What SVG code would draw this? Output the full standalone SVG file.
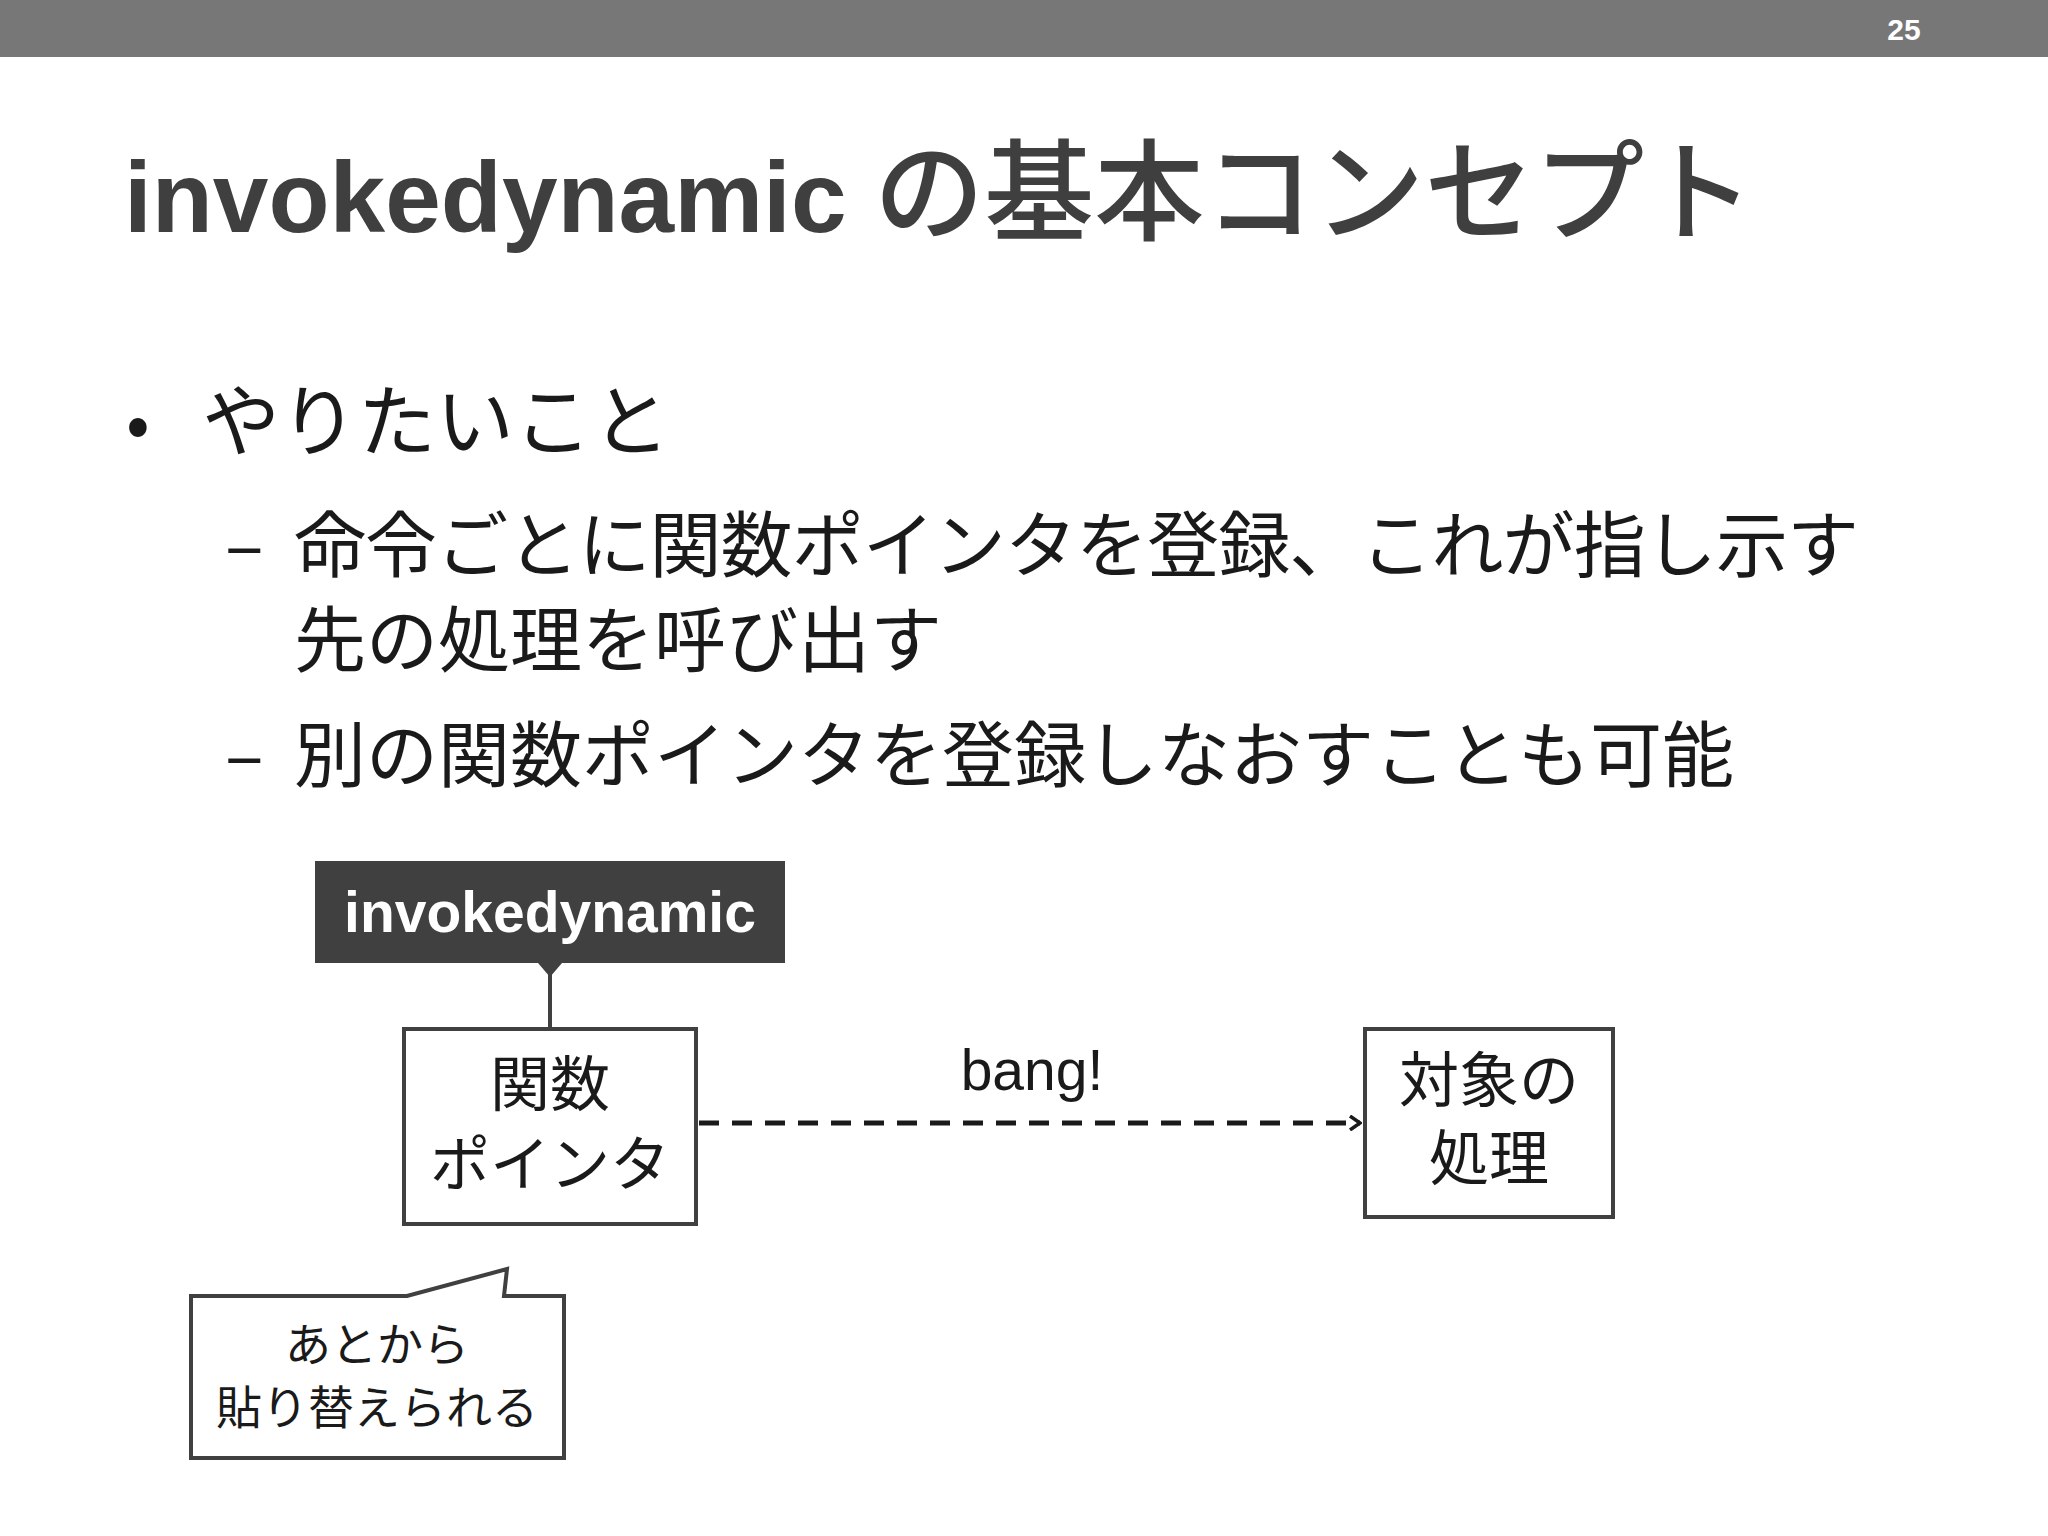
<svg xmlns="http://www.w3.org/2000/svg" width="2048" height="1536" viewBox="0 0 2048 1536">
<style>
.t{font-family:"Liberation Sans","Noto Sans CJK JP",sans-serif;fill:#3a3a3a}
.j{font-family:"Noto Sans CJK JP","Liberation Sans",sans-serif;fill:#1a1a1a}
.box{fill:#fff;stroke:#404040;stroke-width:4}
</style>
<defs><marker id="ah" markerWidth="14" markerHeight="16" refX="12" refY="8" orient="auto" markerUnits="userSpaceOnUse"><path d="M2,1 L12,8 L2,15" fill="none" stroke="#1a1a1a" stroke-width="3.5"/></marker></defs>
<rect width="2048" height="1536" fill="#fff"/>
<rect width="2048" height="57" fill="#777"/>
<text x="1904" y="40" class="t" style="fill:#fff;font-weight:bold;font-size:30px" text-anchor="middle">25</text>
<text x="124" y="232" class="t" style="font-weight:bold;font-size:100px;fill:#3f3f3f">invokedynamic <tspan style="font-family:'Noto Sans CJK JP',sans-serif;font-size:110px;font-weight:500">の基本コンセプト</tspan></text>
<text x="126" y="448" class="j" style="font-size:70px">•</text>
<text x="202" y="450" class="j" style="font-size:78px">やりたいこと</text>
<text x="225" y="571" class="j" style="font-size:72px">–</text>
<text x="294" y="571" class="j" style="font-size:72px" textLength="1565">命令ごとに関数ポインタを登録、これが指し示す</text>
<text x="294" y="666" class="j" style="font-size:72px">先の処理を呼び出す</text>
<text x="225" y="781" class="j" style="font-size:72px">–</text>
<text x="294" y="781" class="j" style="font-size:72px">別の関数ポインタを登録しなおすことも可能</text>
<g id="connectors">
<line x1="550" y1="963" x2="550" y2="1029" stroke="#404040" stroke-width="4"/>
<line x1="699" y1="1123" x2="1360" y2="1123" stroke="#1a1a1a" stroke-width="5" stroke-dasharray="20,13" marker-end="url(#ah)"/>
<text x="1032" y="1090" class="t" style="font-size:57px;fill:#1a1a1a" text-anchor="middle">bang!</text>
</g>
<g id="invokedynamic">
<rect x="315" y="861" width="470" height="102" fill="#404040"/>
<path d="M538,963 L550,977 L562,963 Z" fill="#404040"/>
<text x="550" y="932" class="t" style="fill:#fff;font-weight:bold;font-size:57px" text-anchor="middle">invokedynamic</text>
</g>
<g id="funcptr">
<rect x="404" y="1029" width="292" height="195" class="box"/>
<text x="550" y="1106" class="j" style="font-size:60px" text-anchor="middle">関数</text>
<text x="550" y="1186" class="j" style="font-size:60px" text-anchor="middle">ポインタ</text>
</g>
<g id="target">
<rect x="1365" y="1029" width="248" height="188" class="box"/>
<text x="1489" y="1102" class="j" style="font-size:60px" text-anchor="middle">対象の</text>
<text x="1489" y="1180" class="j" style="font-size:60px" text-anchor="middle">処理</text>
</g>
<g id="callout">
<path d="M191,1296 L407,1296 L507,1269 L504,1296 L564,1296 L564,1458 L191,1458 Z" class="box"/>
<text x="377" y="1361" class="j" style="font-size:46px" text-anchor="middle">あとから</text>
<text x="377" y="1424" class="j" style="font-size:46px" text-anchor="middle">貼り替えられる</text>
</g>
</svg>
